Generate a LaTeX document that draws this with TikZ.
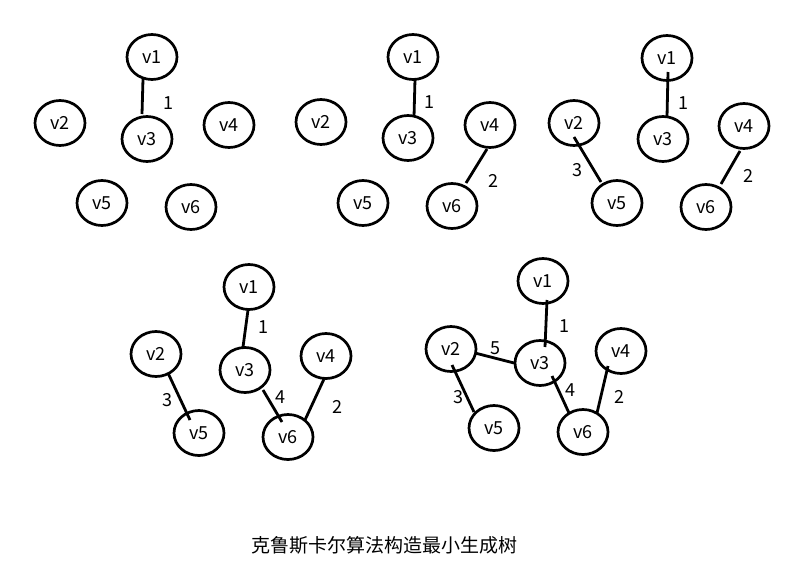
\documentclass[tikz,border=0pt]{standalone}
\usepackage{fontspec}
\setmainfont{Noto Sans CJK SC}
\usetikzlibrary{shapes.geometric,calc}
\tikzset{
  vtx/.style={draw, ellipse, line width=2.7pt, minimum width=50pt, minimum height=45pt, inner sep=0pt, font=\fontsize{18}{18}\selectfont},
  edge/.style={line width=2.8pt},
  wt/.style={font=\fontsize{18}{18}\selectfont, inner sep=0pt},
}
\begin{document}
\begin{tikzpicture}[x=1pt,y=-1pt]
\useasboundingbox (0,0) rectangle (794,581);
% Panel a
\node[vtx] (a1) at (152,57) {v1};
\node[vtx] (a2) at (60,123) {v2};
\node[vtx] (a3) at (147,139) {v3};
\node[vtx] (a4) at (229,125) {v4};
\node[vtx] (a5) at (102,203) {v5};
\node[vtx] (a6) at (191,207) {v6};
\draw[edge] ($(a1.center)+(-9,22)$) -- ($(a3.center)+(-5,-25)$);
\node[wt] (wa13) at (168,103) {1};
% Panel b
\node[vtx] (b1) at (413,57) {v1};
\node[vtx] (b2) at (321,122) {v2};
\node[vtx] (b3) at (408,138) {v3};
\node[vtx] (b4) at (490,125) {v4};
\node[vtx] (b5) at (363,203) {v5};
\node[vtx] (b6) at (452,206) {v6};
\draw[edge] ($(b1.center)+(2,22)$) -- ($(b3.center)+(6,-21)$);
\draw[edge] ($(b4.center)+(-3,24)$) -- ($(b6.center)+(14,-23)$);
\node[wt] (wb13) at (429,102) {1};
\node[wt] (wb46) at (493,181) {2};
% Panel c
\node[vtx] (c1) at (667,58) {v1};
\node[vtx] (c2) at (574,123) {v2};
\node[vtx] (c3) at (663,139) {v3};
\node[vtx] (c4) at (744,126) {v4};
\node[vtx] (c5) at (617,203) {v5};
\node[vtx] (c6) at (706,207) {v6};
\draw[edge] ($(c1.center)+(1,14)$) -- ($(c3.center)+(4,-22)$);
\draw[edge] ($(c2.center)+(0,14)$) -- ($(c5.center)+(-16,-21)$);
\draw[edge] ($(c4.center)+(-4,25)$) -- ($(c6.center)+(15,-23)$);
\node[wt] (wc13) at (683,103) {1};
\node[wt] (wc25) at (577,170) {3};
\node[wt] (wc46) at (748,176) {2};
% Panel d
\node[vtx] (d1) at (249,287) {v1};
\node[vtx] (d2) at (156,354) {v2};
\node[vtx] (d3) at (245,370) {v3};
\node[vtx] (d4) at (326,356) {v4};
\node[vtx] (d5) at (199,433) {v5};
\node[vtx] (d6) at (288,437) {v6};
\draw[edge] ($(d1.center)+(-1,23)$) -- ($(d3.center)+(-2,-23)$);
\draw[edge] ($(d2.center)+(12,19)$) -- ($(d5.center)+(-9,-13)$);
\draw[edge] ($(d3.center)+(18,20)$) -- ($(d6.center)+(-6,-15)$);
\draw[edge] ($(d4.center)+(-2,23)$) -- ($(d6.center)+(17,-17)$);
\node[wt] (wd13) at (263,327) {1};
\node[wt] (wd25) at (167,400) {3};
\node[wt] (wd36) at (280,397) {4};
\node[wt] (wd46) at (337,407) {2};
% Panel e
\node[vtx] (e1) at (543,281) {v1};
\node[vtx] (e2) at (451,349) {v2};
\node[vtx] (e3) at (540,363) {v3};
\node[vtx] (e4) at (621,351) {v4};
\node[vtx] (e5) at (494,428) {v5};
\node[vtx] (e6) at (583,432) {v6};
\draw[edge] ($(e1.center)+(4,19)$) -- ($(e3.center)+(5,-16)$);
\draw[edge] ($(e2.center)+(24,4)$) -- ($(e3.center)+(-26,0)$);
\draw[edge] ($(e2.center)+(1,16)$) -- ($(e5.center)+(-20,-16)$);
\draw[edge] ($(e3.center)+(12,13)$) -- ($(e6.center)+(-14,-19)$);
\draw[edge] ($(e4.center)+(-13,15)$) -- ($(e6.center)+(14,-19)$);
\node[wt] (we13) at (564,326) {1};
\node[wt] (we23) at (495,348) {5};
\node[wt] (we25) at (458,397) {3};
\node[wt] (we36) at (570,390) {4};
\node[wt] (we46) at (619,397) {2};
% caption
\node[font=\fontsize{19}{19}\selectfont, inner sep=0pt] (cap) at (384,545) {克鲁斯卡尔算法构造最小生成树};
\end{tikzpicture}
\end{document}
